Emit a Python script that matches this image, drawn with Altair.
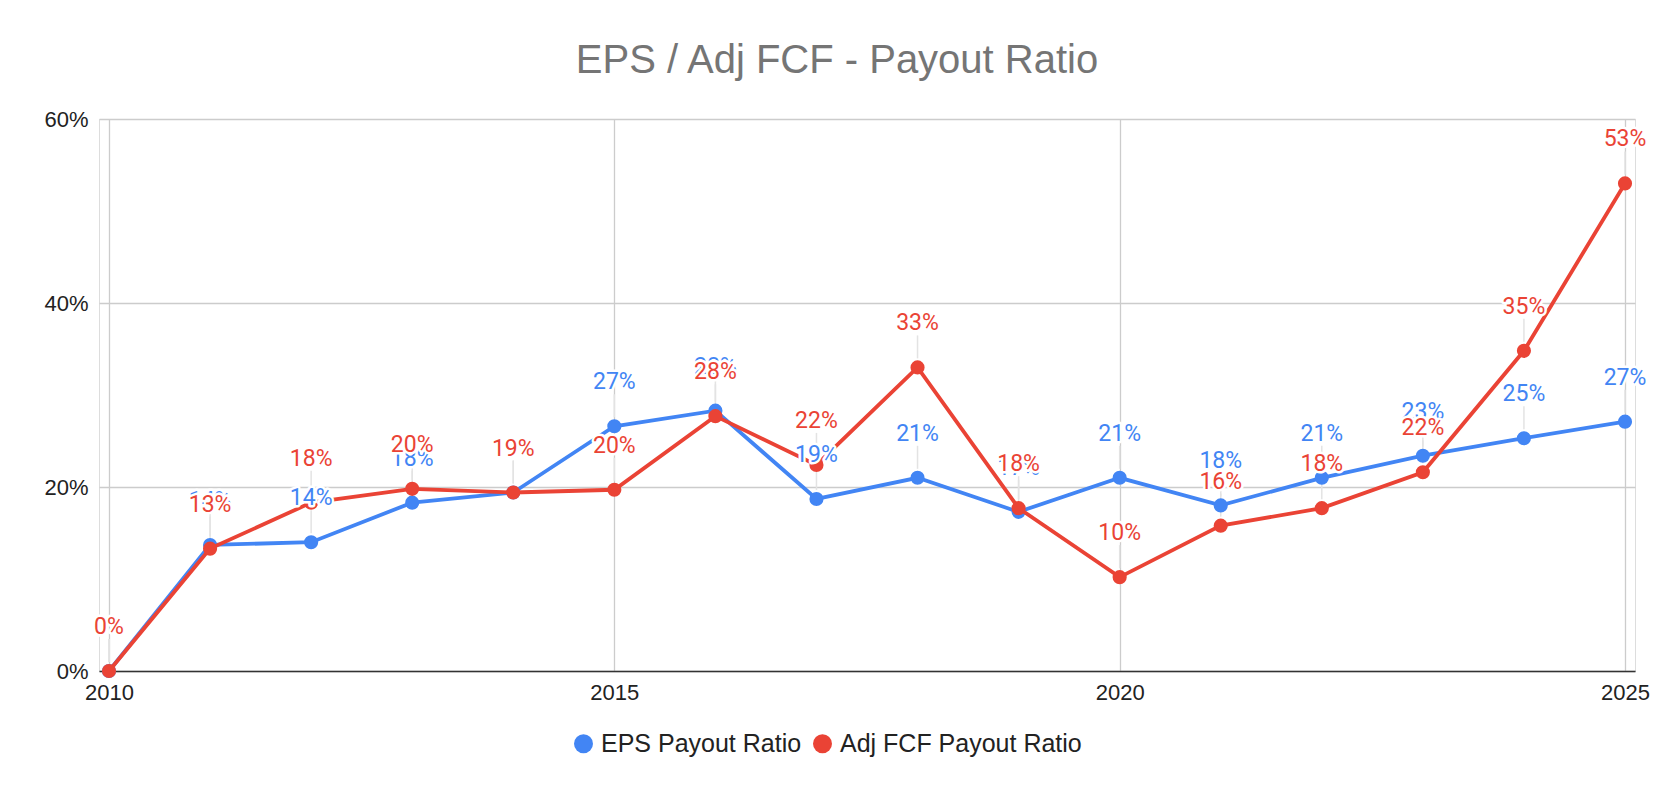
import altair as alt
import pandas as pd

years = list(range(2010, 2026))
eps_ratio = [0.0, 13.7, 14.0, 18.3, 19.4, 26.6, 28.3, 18.7, 21.0, 17.3, 21.0, 18.0, 21.0, 23.4, 25.3, 27.1]
fcf_ratio = [0.0, 13.3, 18.3, 19.8, 19.4, 19.7, 27.7, 22.4, 33.0, 17.7, 10.2, 15.8, 17.7, 21.6, 34.8, 53.0]
series_names = ["EPS Payout Ratio", "Adj FCF Payout Ratio"]
series_colors = ["#4285F4", "#EA4335"]
x_ticks = [2010, 2015, 2020, 2025]
y_ticks = [0.0, 0.2, 0.4, 0.6]

rows = []
for yr, e, f in zip(years, eps_ratio, fcf_ratio):
    rows.append({"year": yr, "series": series_names[0], "value": e / 100})
    rows.append({"year": yr, "series": series_names[1], "value": f / 100})
df = pd.DataFrame(rows)

AX_FONT = "Liberation Sans"
LBL_FONT = "Roboto"

x_enc = alt.X(
    "year:Q",
    scale=alt.Scale(domain=[2010, 2025], padding=10, nice=False, zero=False),
    axis=alt.Axis(values=x_ticks, format="d", title=None, grid=True, gridColor="#cccccc",
                  gridWidth=1.3, ticks=False, domainColor="#333333", domainWidth=1.6,
                  labelFont=AX_FONT, labelFontSize=22, labelColor="#222222", labelPadding=11),
)
y_enc = alt.Y(
    "value:Q",
    scale=alt.Scale(domain=[0, 0.6], nice=False),
    axis=alt.Axis(values=y_ticks, format=".0%", title=None, domain=False, ticks=False,
                  gridColor="#cccccc", gridWidth=1.3, labelFont=AX_FONT, labelFontSize=22,
                  labelColor="#222222", labelPadding=11),
)

color_enc = alt.Color(
    "series:N",
    scale=alt.Scale(domain=series_names, range=series_colors),
    legend=alt.Legend(
        title=None, orient="none", legendX=472, legendY=612, direction="horizontal",
        symbolType="circle", symbolSize=360, symbolStrokeWidth=0, symbolOpacity=1,
        labelFont=AX_FONT, labelFontSize=25, labelColor="#222222", labelOffset=5,
        labelLimit=0, columnPadding=8,
    ),
)

base = alt.Chart(df).encode(x=x_enc, y=y_enc)

leaders = base.mark_rule(color="#e3e3e3", strokeWidth=1.5, yOffset=-9, y2Offset=-32).encode(
    y2=alt.Y2("value:Q")
)

layers = [leaders]
for name, col in zip(series_names, series_colors):
    sub = base.transform_filter(alt.datum.series == name)
    layers.append(sub.mark_line(color=col, strokeWidth=3.8))
    layers.append(sub.mark_circle(size=200, opacity=1).encode(color=color_enc))

for name, col in zip(series_names, series_colors):
    sub = base.transform_filter(alt.datum.series == name)
    txt = alt.Text("value:Q", format=".0%")
    layers.append(sub.mark_text(dy=-44, font=LBL_FONT, fontSize=23, fill="white", stroke="white",
                                strokeWidth=5, strokeJoin="round").encode(text=txt))
    layers.append(sub.mark_text(dy=-44, font=LBL_FONT, fontSize=23, color=col).encode(text=txt))

chart = alt.layer(*layers).properties(
    width=1536,
    height=552,
    padding={"left": 91, "top": 111, "right": 31, "bottom": 119},
    autosize=alt.AutoSizeParams(type="none"),
    title=alt.TitleParams(
        "EPS / Adj FCF - Payout Ratio", font=AX_FONT, fontSize=40, fontWeight="normal",
        color="#757575", anchor="middle", frame="group", dx=-30, offset=27,
    ),
).configure_view(stroke=None).configure(background="white")

chart.save("out.html", embed_options={"renderer": "svg", "actions": False})
